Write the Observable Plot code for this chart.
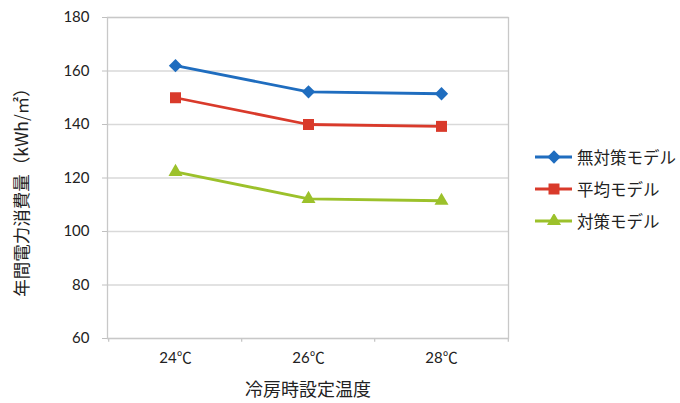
<!DOCTYPE html>
<html><head><meta charset="utf-8">
<script src="https://cdn.jsdelivr.net/npm/d3@7"></script>
<script src="https://cdn.jsdelivr.net/npm/@observablehq/plot@0.6"></script>
<style>
body{margin:0;background:#fff}
#wrap{position:relative;width:680px;height:403px;font-family:Lato,"Noto Sans CJK JP",sans-serif}
#legend{position:absolute;left:534px;top:141px}
.item{display:flex;align-items:center;height:32px;font-family:"Noto Sans CJK JP",sans-serif;font-size:16.5px;color:#222}
.item svg{margin-right:3px}
</style>
</head><body><div id="wrap"></div>
<script>
const temps = ["24℃", "26℃", "28℃"];
const seriesNames = ["無対策モデル", "平均モデル", "対策モデル"];
const noMeasures = [162, 152.2, 151.5];
const average = [150, 140, 139.3];
const measures = [122.3, 112.2, 111.5];
const yTicks = [60, 80, 100, 120, 140, 160, 180];
const colors = ["#1f6dbf", "#d93a2b", "#9cc12b"];
const symbolNames = ["diamondSq", "square", "triangle"];
const xLabel = "冷房時設定温度";
const yLabel = "年間電力消費量（kWh/㎡）";

const diamondSq = {draw(ctx, size) { const h = Math.sqrt(size / 2); ctx.moveTo(0, -h); ctx.lineTo(h, 0); ctx.lineTo(0, h); ctx.lineTo(-h, 0); ctx.closePath(); }};
const symbolMap = {diamondSq: diamondSq, square: "square", triangle: "triangle"};
const symbolSize = {diamondSq: 5.3, square: 6.2, triangle: 5.2};

const seriesValues = [noMeasures, average, measures];
const data = [];
seriesNames.forEach((s, i) => temps.forEach((t, j) => data.push({series: s, temp: t, value: seriesValues[i][j], idx: i})));

const W = 680, H = 403, mL = 107, mR = 172, mT = 17, mB = 65;
const step = (W - mL - mR) / temps.length;
const gridColor = "#d9d9d9";

const marks = [
  Plot.ruleY(yTicks, {stroke: gridColor, strokeWidth: 1.3}),
  Plot.frame({stroke: "#c8c8c8", strokeWidth: 1.3}),
  Plot.ruleX(temps, {x: d => d, dx: -step / 2, y1: 60, y2: 58.6, stroke: "#c8c8c8", strokeWidth: 1.3}),
  Plot.ruleX(temps.slice(-1), {x: d => d, dx: step / 2, y1: 60, y2: 58.6, stroke: "#c8c8c8", strokeWidth: 1.3}),
  Plot.axisY({ticks: yTicks, tickSize: 5, tickPadding: 13, stroke: "#c0c0c0", fill: "#222", fontSize: 15, label: null}),
  Plot.axisX({tickSize: 0, tickPadding: 14, fill: "#222", fontSize: 15, label: null}),
  Plot.text([yLabel], {frameAnchor: "left", textAnchor: "middle", dx: -85, dy: 10, rotate: -90, fontSize: 17.5, fill: "#222", fontFamily: "'Noto Sans CJK JP', sans-serif"}),
  Plot.text([xLabel], {frameAnchor: "bottom", textAnchor: "middle", dy: 57, fontSize: 18, fill: "#222", fontFamily: "'Noto Sans CJK JP', sans-serif"})
];
seriesNames.forEach((s, i) => {
  const d = data.filter(r => r.series === s);
  marks.push(Plot.line(d, {x: "temp", y: "value", stroke: colors[i], strokeWidth: 2.8}));
  marks.push(Plot.dot(d, {x: "temp", y: "value", fill: colors[i], stroke: "none", r: symbolSize[symbolNames[i]], symbol: () => symbolMap[symbolNames[i]]}));
});

const chart = Plot.plot({
  width: W, height: H,
  marginLeft: mL, marginRight: mR, marginTop: mT, marginBottom: mB,
  style: {fontFamily: "Lato, 'Noto Sans CJK JP', sans-serif", background: "#fff"},
  x: {type: "point", domain: temps, padding: 0.5, axis: null},
  y: {domain: [60, 180], axis: null},
  symbol: {type: "identity"},
  marks
});
const wrap = document.getElementById("wrap");
wrap.appendChild(chart);

const legend = document.createElement("div");
legend.id = "legend";
seriesNames.forEach((s, i) => {
  const item = document.createElement("div");
  item.className = "item";
  const svg = d3.create("svg").attr("width", 40).attr("height", 14);
  svg.append("line").attr("x1", 1).attr("x2", 38).attr("y1", 7).attr("y2", 7).attr("stroke", colors[i]).attr("stroke-width", 2.8);
  const sym = symbolNames[i];
  const size = Math.PI * symbolSize[sym] ** 2;
  const p = d3.path();
  if (sym === "diamondSq") diamondSq.draw(p, size);
  else (sym === "square" ? d3.symbolSquare : d3.symbolTriangle).draw(p, size);
  svg.append("path").attr("d", p.toString()).attr("transform", "translate(20,7)").attr("fill", colors[i]);
  item.appendChild(svg.node());
  const span = document.createElement("span");
  span.textContent = s;
  item.appendChild(span);
  legend.appendChild(item);
});
wrap.appendChild(legend);
</script>
</body></html>
